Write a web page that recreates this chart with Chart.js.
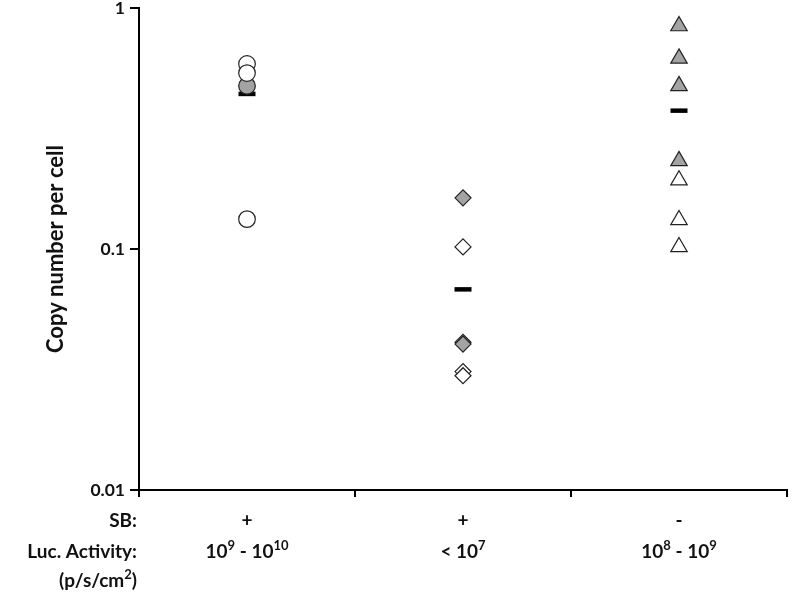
<!DOCTYPE html>
<html>
<head>
<meta charset="utf-8">
<script src="https://cdn.jsdelivr.net/npm/chart.js@4/dist/chart.umd.min.js"></script>
<style>
    html, body { margin: 0; padding: 0; background: #fff; }
    #wrap { width: 792px; height: 598px; }
</style>
</head>
<body>
<div id="wrap"><canvas id="copyChart" width="792" height="598"></canvas></div>
<script>
// Group positions on the x axis (1 = SB+ high, 2 = SB+ low, 3 = SB-)
const groupX = [1, 2, 3];

// Copy number per cell
const circleOpen = [0.586, 0.537, 0.133];
const circleFilled = [0.475];
const diamondOpen = [0.102, 0.031, 0.0298];
const diamondFilled = [0.163, 0.041, 0.0403];
const triangleFilled = [0.842, 0.618, 0.475, 0.232];
const triangleOpen = [0.193, 0.132, 0.102];
const groupMeans = [0.44, 0.068, 0.375];

// Axis ticks and labels
const yTicks = [0.01, 0.1, 1];
const yTitle = 'Copy number per cell';
const rowTitles = ['SB:', 'Luc. Activity:', '(p/s/cm^2)'];
const sbLabels = ['+', '+', '-'];
const lucLabels = ['10^9 - 10^10', '< 10^7', '10^8 - 10^9'];

const FONT = 'Lato, "Open Sans", sans-serif';
const gray = '#a3a3a3';
const edge = '#222';

function points(x, values) {
    return values.map(v => ({ x: x, y: v }));
}

function markerSet(label, x, values, style, fill, radius) {
    return {
        label: label,
        data: points(x, values),
        pointStyle: style,
        pointRadius: radius,
        pointHoverRadius: radius,
        backgroundColor: fill,
        borderColor: edge,
        pointBorderWidth: 1.2,
        showLine: false
    };
}

// draw text with "^n" parts as superscripts
function drawRich(ctx, text, x, y, size, align) {
    const parts = text.split(/\^(\d+)/);
    const big = 'bold ' + size + 'px ' + FONT;
    const small = 'bold ' + Math.round(size * 0.68) + 'px ' + FONT;
    let total = 0;
    parts.forEach((p, i) => {
        ctx.font = i % 2 ? small : big;
        total += ctx.measureText(p).width;
    });
    let cx = align === 'right' ? x - total : (align === 'center' ? x - total / 2 : x);
    ctx.textAlign = 'left';
    ctx.textBaseline = 'middle';
    parts.forEach((p, i) => {
        ctx.font = i % 2 ? small : big;
        ctx.fillText(p, cx, i % 2 ? y - size * 0.3 : y);
        cx += ctx.measureText(p).width;
    });
}

const extraLabels = {
    id: 'extraLabels',
    afterDraw(chart) {
        const ctx = chart.ctx;
        const xs = chart.scales.x;
        const ys = chart.scales.y;
        const rowsY = [521, 552, 581];
        ctx.save();
        ctx.fillStyle = '#111';
        rowTitles.forEach((t, i) => drawRich(ctx, t, 137, rowsY[i], 19, 'right'));
        groupX.forEach((g, i) => {
            const px = xs.getPixelForValue(g);
            drawRich(ctx, sbLabels[i], px, rowsY[0], 19, 'center');
            drawRich(ctx, lucLabels[i], px, rowsY[1], 19, 'center');
        });
        // y axis title, about 228px long, centred on the plot
        ctx.font = 'bold 20px ' + FONT;
        const size = Math.min(22, 20 * 228 / ctx.measureText(yTitle).width);
        ctx.translate(56, (ys.top + ys.bottom) / 2);
        ctx.rotate(-Math.PI / 2);
        ctx.font = 'bold ' + size.toFixed(1) + 'px ' + FONT;
        ctx.textAlign = 'center';
        ctx.textBaseline = 'middle';
        ctx.fillText(yTitle, 0, 0);
        ctx.restore();
    }
};

function initChart() {
    const ctx = document.getElementById('copyChart').getContext('2d');

    new Chart(ctx, {
        type: 'scatter',
        data: {
            datasets: [
                markerSet('circle open', groupX[0], circleOpen, 'circle', '#fff', 8.3),
                markerSet('circle filled', groupX[0], circleFilled, 'circle', gray, 8.3),
                markerSet('diamond open', groupX[1], diamondOpen, 'rectRot', '#fff', 8),
                markerSet('diamond filled', groupX[1], diamondFilled, 'rectRot', gray, 8),
                markerSet('triangle filled', groupX[2], triangleFilled, 'triangle', gray, 9.5),
                markerSet('triangle open', groupX[2], triangleOpen, 'triangle', '#fff', 9.5),
                {
                    label: 'mean',
                    data: groupX.map((g, i) => ({ x: g, y: groupMeans[i] })),
                    pointStyle: 'line',
                    pointRadius: 8.5,
                    pointHoverRadius: 8.5,
                    borderColor: '#000',
                    pointBorderWidth: 4.5,
                    showLine: false
                }
            ]
        },
        options: {
            responsive: false,
            animation: false,
            layout: {
                autoPadding: false,
                padding: { left: 82, top: 8, right: 5, bottom: 0 }
            },
            plugins: {
                legend: { display: false },
                tooltip: { enabled: false }
            },
            scales: {
                x: {
                    type: 'linear',
                    min: 0.5,
                    max: 3.5,
                    afterBuildTicks: s => { s.ticks = [0.5, 1.5, 2.5, 3.5].map(v => ({ value: v })); },
                    afterFit: s => { s.height = 108; },
                    border: { color: '#000', width: 2 },
                    grid: {
                        drawOnChartArea: false,
                        drawTicks: true,
                        tickLength: 7,
                        color: '#000',
                        lineWidth: 2
                    },
                    ticks: { display: false }
                },
                y: {
                    type: 'logarithmic',
                    min: 0.01,
                    max: 1,
                    afterBuildTicks: s => { s.ticks = yTicks.map(v => ({ value: v })); },
                    afterFit: s => { s.width = 57; s.paddingTop = 0; s.paddingBottom = 0; },
                    border: { color: '#000', width: 2 },
                    grid: {
                        drawOnChartArea: false,
                        drawTicks: true,
                        tickLength: 9,
                        color: '#000',
                        lineWidth: 2
                    },
                    ticks: {
                        color: '#111',
                        padding: 5,
                        font: { family: FONT, size: 17.5, weight: 'bold' },
                        callback: v => String(v)
                    }
                }
            }
        },
        plugins: [extraLabels]
    });
}

document.addEventListener('DOMContentLoaded', initChart);
</script>
</body>
</html>
